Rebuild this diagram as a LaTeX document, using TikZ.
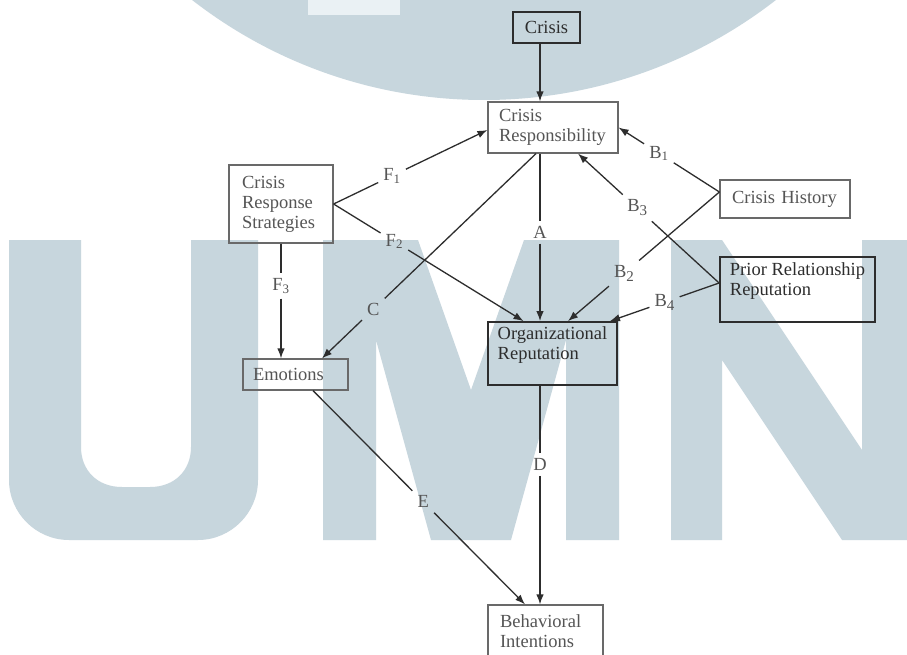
\documentclass[tikz,border=0pt]{standalone}
\usepackage{fontspec}
\setmainfont{Liberation Serif}
\usetikzlibrary{arrows.meta,calc}
\definecolor{wm}{RGB}{199,214,221}
\definecolor{wmlight}{RGB}{234,241,244}
\definecolor{ink}{RGB}{45,45,45}
\definecolor{boxline}{RGB}{105,105,105}
\definecolor{txtgray}{RGB}{85,85,85}
\definecolor{txtdark}{RGB}{45,45,45}
\newcommand\diagfont{\fontsize{18.5}{20}\selectfont}
\newcommand\bigsub[1]{\raisebox{-4pt}{\fontsize{15}{15}\selectfont #1}}
\begin{document}
\begin{tikzpicture}[x=1pt,y=-1pt,
  box/.style={draw=boxline, line width=1.2pt, inner ysep=0pt, font=\diagfont, text=txtgray},
  strongbox/.style={draw=ink, line width=1.8pt, inner ysep=0pt, inner xsep=0pt, font=\diagfont, text=txtdark},
  lab/.style={inner sep=5pt, font=\diagfont, text=txtgray},
  con/.style={draw=ink, line width=1.3pt},
  arr/.style={con, -{Latex[length=10pt,width=7.5pt]}}]
\useasboundingbox (0,0) rectangle (907,655);
\fill[white] (0,0) rectangle (907,655);
% watermark
\begin{scope}
\clip (0,0) rectangle (907,655);
\fill[wm] (484,-376) circle[radius=476pt];
\fill[wmlight] (308,0) rectangle (400,15);
\fill[wm] (9,240) -- (9,480) .. controls (9,513) and (36,540) .. (69,540) -- (198,540)
  .. controls (231,540) and (258,513) .. (258,480) -- (258,240) -- (191,240) -- (191,447)
  .. controls (191,470) and (175,487) .. (150,487) -- (122,487)
  .. controls (97,487) and (81,470) .. (81,447) -- (81,240) -- cycle;
\fill[wm] (323,240) -- (418,240) -- (471,390) -- (524,240) -- (619,240) -- (619,540)
  -- (566,540) -- (566,340) -- (511,540) -- (431,540) -- (376,340) -- (376,540)
  -- (323,540) -- cycle;
\fill[wm] (671,240) -- (722,240) -- (862,450) -- (862,240) -- (907,240) -- (907,540)
  -- (842,540) -- (722,360) -- (722,540) -- (671,540) -- cycle;
\end{scope}
% boxes
\node[strongbox, minimum width=67pt, minimum height=31pt] (crisis) at (546.5,27.5) {Crisis};
\node[box, minimum width=130pt, minimum height=51pt, inner xsep=11pt, text width=108pt, align=left] (cr) at (553,127.5) {Crisis\\Responsibility};
\node[box, minimum width=104pt, minimum height=78pt, inner xsep=13pt, text width=78pt, align=left] (crs) at (281,204) {Crisis\\Response\\Strategies};
\node[box, minimum width=130pt, minimum height=38pt, inner xsep=12pt, text width=106pt, align=left] (ch) at (785,199) {Crisis History};
\node[strongbox, minimum width=155pt, minimum height=65pt] (prior) at (797.5,289.5)
  {\raisebox{8pt}[\height][\depth]{\begin{tabular}{@{}l@{}}Prior Relationship\\Reputation\end{tabular}}};
\node[strongbox, minimum width=129pt, minimum height=63pt] (org) at (552.5,353.5)
  {\raisebox{8pt}[\height][\depth]{\begin{tabular}{@{}l@{}}Organizational\\Reputation\end{tabular}}};
\node[box, minimum width=105pt, minimum height=31pt, inner xsep=10pt, text width=85pt, align=left] (emo) at (295.5,374.5) {Emotions};
\node[box, minimum width=115pt, minimum height=52pt, inner xsep=12pt, text width=91pt, align=left] (bi) at (545.5,631) {Behavioral\\Intentions};
% connectors
\draw[arr] ([shift={(-6.5,0)}]crisis.south) -- ([shift={(-13,0)}]cr.north);
% F1
\path (crs.east) -- ([shift={(0,2.5)}]cr.west) node[lab, pos=0.38] (lF1) {F\textsubscript{1}};
\draw[con] (crs.east) -- (lF1);
\draw[arr] (lF1) -- ([shift={(0,2.5)}]cr.west);
% F2
\path (crs.east) -- ([shift={(-29,0)}]org.north) node[lab, pos=0.32] (lF2) {F\textsubscript{2}};
\draw[con] (crs.east) -- (lF2);
\draw[arr] (lF2) -- ([shift={(-29,0)}]org.north);
% F3
\path (crs.south) -- (crs.south |- emo.north) node[lab, pos=0.37] (lF3) {F\textsubscript{3}};
\draw[con] (crs.south) -- (lF3);
\draw[arr] (lF3) -- (crs.south |- emo.north);
% C
\path ([shift={(-17,0)}]cr.south) -- ([shift={(26.5,0)}]emo.north) node[lab, pos=0.76] (lC) {C};
\draw[con] ([shift={(-17,0)}]cr.south) -- (lC);
\draw[arr] (lC) -- ([shift={(26.5,0)}]emo.north);
% A
\path ([shift={(-13,0)}]cr.south) -- ([shift={(-12.5,0)}]org.north) node[lab, pos=0.47] (lA) {A};
\draw[con] ([shift={(-13,0)}]cr.south) -- (lA);
\draw[arr] (lA) -- ([shift={(-12.5,0)}]org.north);
% D
\path ([shift={(-12.5,0)}]org.south) -- ([shift={(-5.5,0)}]bi.north) node[lab, pos=0.36] (lD) {D};
\draw[con] ([shift={(-12.5,0)}]org.south) -- (lD);
\draw[arr] (lD) -- ([shift={(-5.5,0)}]bi.north);
% E
\path ([shift={(17.5,0)}]emo.south) -- ([shift={(-20.5,0)}]bi.north) node[lab, pos=0.52] (lE) {E};
\draw[con] ([shift={(17.5,0)}]emo.south) -- (lE);
\draw[arr] (lE) -- ([shift={(-20.5,0)}]bi.north);
% B1
\path ([shift={(0,-7)}]ch.west) -- (cr.east) node[lab, pos=0.6] (lB1) {B\textsubscript{1}};
\draw[con] ([shift={(0,-7)}]ch.west) -- (lB1);
\draw[arr] (lB1) -- (cr.east);
% B2
\path ([shift={(0,-7)}]ch.west) -- ([shift={(15.5,0)}]org.north) node[lab, pos=0.63] (lB2) {B\bigsub{2}};
\draw[con] ([shift={(0,-7)}]ch.west) -- (lB2);
\draw[arr] (lB2) -- ([shift={(15.5,0)}]org.north);
% B3
\path ([shift={(0,-6.5)}]prior.west) -- ([shift={(25,0)}]cr.south) node[lab, pos=0.58] (lB3) {B\bigsub{3}};
\draw[con] ([shift={(0,-6.5)}]prior.west) -- (lB3);
\draw[arr] (lB3) -- ([shift={(25,0)}]cr.south);
% B4
\path ([shift={(0,-6.5)}]prior.west) -- ([shift={(57.5,0)}]org.north) node[lab, pos=0.5] (lB4) {B\bigsub{4}};
\draw[con] ([shift={(0,-6.5)}]prior.west) -- (lB4);
\draw[arr] (lB4) -- ([shift={(57.5,0)}]org.north);
\end{tikzpicture}
\end{document}
